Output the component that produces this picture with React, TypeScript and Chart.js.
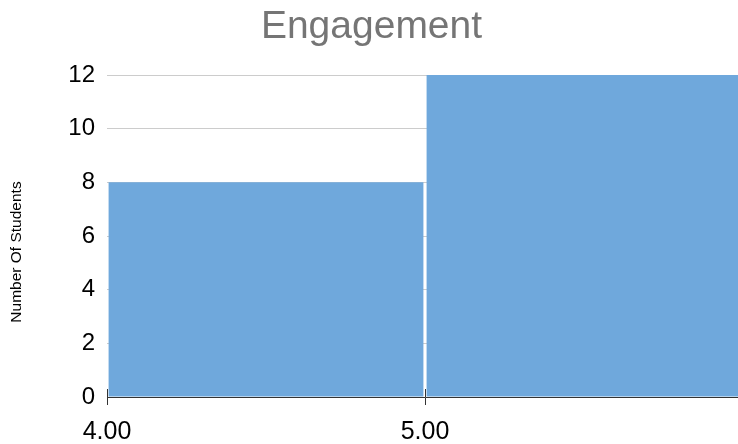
import { useEffect, useRef } from "react";
import { Chart, registerables } from "chart.js";

Chart.register(...registerables);

const chartTitle = "Engagement";
const yAxisTitle = "Number Of Students";
const binStarts = [4, 5];
const binEnds = [5, 6];
const counts = [8, 12];
const xTickValues = [4, 5];
const xTickLabels = ["4.00", "5.00"];
const yMin = 0;
const yMax = 12;
const yStep = 2;

const FONT = "'Liberation Sans', Arial, Helvetica, sans-serif";

export default function App() {
  const ref = useRef<HTMLCanvasElement>(null);

  useEffect(() => {
    if (!ref.current) return;

    const axisExtras = {
      id: "axisExtras",
      afterDatasetsDraw(chart: any) {
        const { ctx, chartArea, scales } = chart;
        const x = scales.x;
        ctx.save();
        ctx.strokeStyle = "#333333";
        ctx.lineWidth = 1;
        xTickValues.forEach((v) => {
          const px = Math.round(x.getPixelForValue(v)) + 0.5;
          ctx.beginPath();
          ctx.moveTo(px, chartArea.bottom - 8);
          ctx.lineTo(px, chartArea.bottom);
          ctx.stroke();
        });
        ctx.restore();
      },
      afterDraw(chart: any) {
        const { ctx, chartArea } = chart;
        ctx.save();
        ctx.translate(17, (chartArea.top + chartArea.bottom) / 2 + 16);
        ctx.rotate(-Math.PI / 2);
        ctx.font = `15.5px ${FONT}`;
        ctx.fillStyle = "#000000";
        ctx.textAlign = "center";
        ctx.textBaseline = "middle";
        ctx.fillText(yAxisTitle, 0, 0);
        ctx.restore();
      },
    };

    const chart = new Chart(ref.current, {
      type: "bar",
      data: {
        datasets: [
          {
            label: yAxisTitle,
            data: counts.map((c, i) => ({ x: (binStarts[i] + binEnds[i]) / 2, y: c })),
            backgroundColor: "#6fa8dc",
            borderWidth: 0,
            barPercentage: 0.99,
            categoryPercentage: 1,
          },
        ],
      },
      options: {
        responsive: false,
        animation: false,
        layout: { padding: { left: 0, right: 17, top: 0, bottom: 0 } },
        plugins: {
          legend: { display: false },
          tooltip: { enabled: false },
          title: {
            display: true,
            text: chartTitle,
            color: "#757575",
            font: { family: FONT, size: 39, weight: "normal" },
            padding: { top: 4, bottom: 24.2 },
          },
        },
        scales: {
          x: {
            type: "linear",
            offset: false,
            min: binStarts[0],
            max: binEnds[binEnds.length - 1],
            afterBuildTicks: (scale: any) => {
              scale.ticks = xTickValues.map((v) => ({ value: v }));
            },
            afterFit: (scale: any) => {
              scale.height = 47;
            },
            ticks: {
              autoSkip: false,
              maxRotation: 0,
              color: "#000000",
              font: { family: FONT, size: 25 },
              padding: 12,
              callback: (value: any) => {
                const idx = xTickValues.indexOf(Number(value));
                return idx >= 0 ? xTickLabels[idx] : "";
              },
            },
            grid: {
              display: true,
              offset: false,
              drawOnChartArea: false,
              drawTicks: true,
              tickLength: 8,
              color: "#333333",
              lineWidth: 1,
            },
            border: { display: true, color: "#333333", width: 1 },
          },
          y: {
            min: yMin,
            max: yMax,
            afterFit: (scale: any) => {
              scale.width = 107;
            },
            ticks: {
              stepSize: yStep,
              color: "#000000",
              font: { family: FONT, size: 24 },
              padding: 12,
            },
            grid: {
              color: "#cccccc",
              lineWidth: 1,
              drawTicks: false,
            },
            border: { display: false },
          },
        },
      },
      plugins: [axisExtras],
    } as any);

    return () => chart.destroy();
  }, []);

  return (
    <div
      style={{
        position: "fixed",
        left: 0,
        top: 0,
        width: 738,
        height: 444,
        overflow: "hidden",
        background: "#ffffff",
      }}
    >
      <canvas ref={ref} width={760} height={444} style={{ width: 760, height: 444, display: "block" }} />
    </div>
  );
}
